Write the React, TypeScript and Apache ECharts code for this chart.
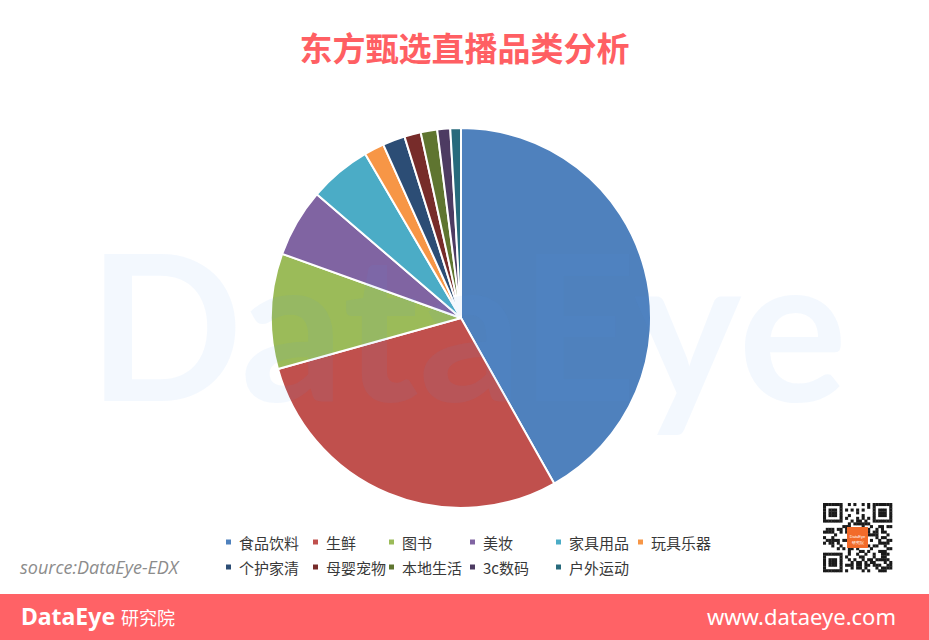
import React, { useEffect, useRef } from "react";
import * as echarts from "echarts";

const categories = ["食品饮料", "生鲜", "图书", "美妆", "家具用品", "玩具乐器", "个护家清", "母婴宠物", "本地生活", "3c数码", "户外运动"];
const values = [41.8, 28.8, 9.8, 5.8, 5.3, 1.7, 1.9, 1.4, 1.4, 1.1, 0.9];
const colors = ["#4F81BD", "#C0504D", "#9BBB59", "#8064A2", "#4BACC6", "#F79646", "#2C4D75", "#772C2A", "#5F7530", "#4D3B62", "#276A7C"];
const titleText = "东方甄选直播品类分析";
const sourceText = "source:DataEye-EDX";
const legendColumnsX = [224, 311, 387, 468, 554, 636];

function qrModules(): any[] {
  const n = 25;
  const size = 69 / n;
  const x0 = 823;
  const y0 = 503;
  const out: any[] = [];
  const isFinder = (r: number, c: number) => {
    const check = (rr: number, cc: number) => {
      if (rr < 0 || cc < 0 || rr > 6 || cc > 6) return -1;
      const ring = Math.max(Math.abs(rr - 3), Math.abs(cc - 3));
      return ring === 2 ? 0 : 1;
    };
    let v = check(r, c);
    if (v >= 0) return v;
    v = check(r, c - (n - 7));
    if (v >= 0) return v;
    v = check(r - (n - 7), c);
    if (v >= 0) return v;
    if ((r === 7 && (c <= 7 || c >= n - 8)) || (c === 7 && (r <= 7 || r >= n - 8)) || (r === n - 8 && c <= 7) || (c === n - 8 && r <= 7)) return 0;
    return -1;
  };
  for (let r = 0; r < n; r++) {
    for (let c = 0; c < n; c++) {
      let on: boolean;
      const f = isFinder(r, c);
      if (f >= 0) on = f === 1;
      else {
        const h = ((r * 73856093) ^ (c * 19349663) ^ (r * c * 83492791)) >>> 0;
        on = (h % 7) < 3;
      }
      if (r >= 9 && r <= 15 && c >= 9 && c <= 15) on = false;
      if (on) {
        out.push({
          type: "rect",
          shape: { x: x0 + c * size, y: y0 + r * size, width: size + 0.3, height: size + 0.3 },
          style: { fill: "#1a1a1a" },
          silent: true,
        });
      }
    }
  }
  out.push({
    type: "rect",
    shape: { x: 847, y: 527, width: 21, height: 21 },
    style: { fill: "#F26B2A" },
    silent: true,
  });
  out.push({
    type: "text",
    style: { x: 857.5, y: 534, text: "DataEye", fill: "#fff", font: "4px sans-serif", align: "center" },
    silent: true,
  });
  out.push({
    type: "text",
    style: { x: 857.5, y: 540, text: "研究院", fill: "#fff", font: "4px sans-serif", align: "center" },
    silent: true,
  });
  return out;
}

export default function App() {
  const ref = useRef<HTMLDivElement>(null);
  useEffect(() => {
    if (!ref.current) return;
    const chart = echarts.init(ref.current, null, { renderer: "svg" });
    const legends = legendColumnsX.map((x, i) => ({
      data: [categories[i], categories[i + 6]].filter((d) => d !== undefined),
      orient: "vertical",
      left: x,
      top: 534.5,
      padding: 0,
      itemWidth: 7,
      itemHeight: 7,
      itemGap: 10,
      icon: "rect",
      selectedMode: false,
      textStyle: { fontSize: 15, lineHeight: 15, color: "#383838", fontFamily: "Noto Sans CJK SC", padding: [0, 0, 0, 2] },
    }));
    chart.setOption({
      animation: false,
      backgroundColor: "#ffffff",
      title: {
        text: titleText,
        left: "center",
        top: 30,
        padding: 0,
        textStyle: { fontSize: 33, fontWeight: "bold", color: "#FF5F63", fontFamily: "Noto Sans CJK SC" },
      },
      legend: legends,
      series: [
        {
          type: "pie",
          radius: 190,
          center: [461, 318],
          startAngle: 90,
          clockwise: true,
          label: { show: false },
          labelLine: { show: false },
          emphasis: { disabled: true },
          itemStyle: { borderColor: "#ffffff", borderWidth: 2 },
          data: categories.map((name, i) => ({ name, value: values[i], itemStyle: { color: colors[i] } })),
        },
      ],
      graphic: [
        {
          type: "text",
          z: 100,
          silent: true,
          style: {
            x: 88,
            y: 322,
            text: "DataEye",
            font: "bold 204px Lato",
            fill: "rgba(90,160,235,0.07)",
            verticalAlign: "middle",
          },
        },
        {
          type: "text",
          silent: true,
          style: { x: 20, y: 567, text: sourceText, font: "italic 18px 'Open Sans'", fill: "#8C8C8C", verticalAlign: "middle" },
        },
        {
          type: "rect",
          silent: true,
          shape: { x: 0, y: 594, width: 929, height: 46 },
          style: { fill: "#FF6266" },
        },
        {
          type: "text",
          silent: true,
          style: { x: 21, y: 616, text: "DataEye", font: "bold 23px 'Noto Sans'", fill: "#ffffff", verticalAlign: "middle" },
        },
        {
          type: "text",
          silent: true,
          style: { x: 121, y: 617, text: "研究院", font: "18px 'Noto Sans CJK SC'", fill: "#ffffff", verticalAlign: "middle" },
        },
        {
          type: "text",
          silent: true,
          style: { x: 896, y: 616, text: "www.dataeye.com", font: "22px 'Noto Sans'", fill: "#ffffff", verticalAlign: "middle", align: "right" },
        },
        ...qrModules(),
      ],
    });
    return () => chart.dispose();
  }, []);
  return <div ref={ref} style={{ position: "fixed", left: 0, top: 0, width: 929, height: 640 }} />;
}
